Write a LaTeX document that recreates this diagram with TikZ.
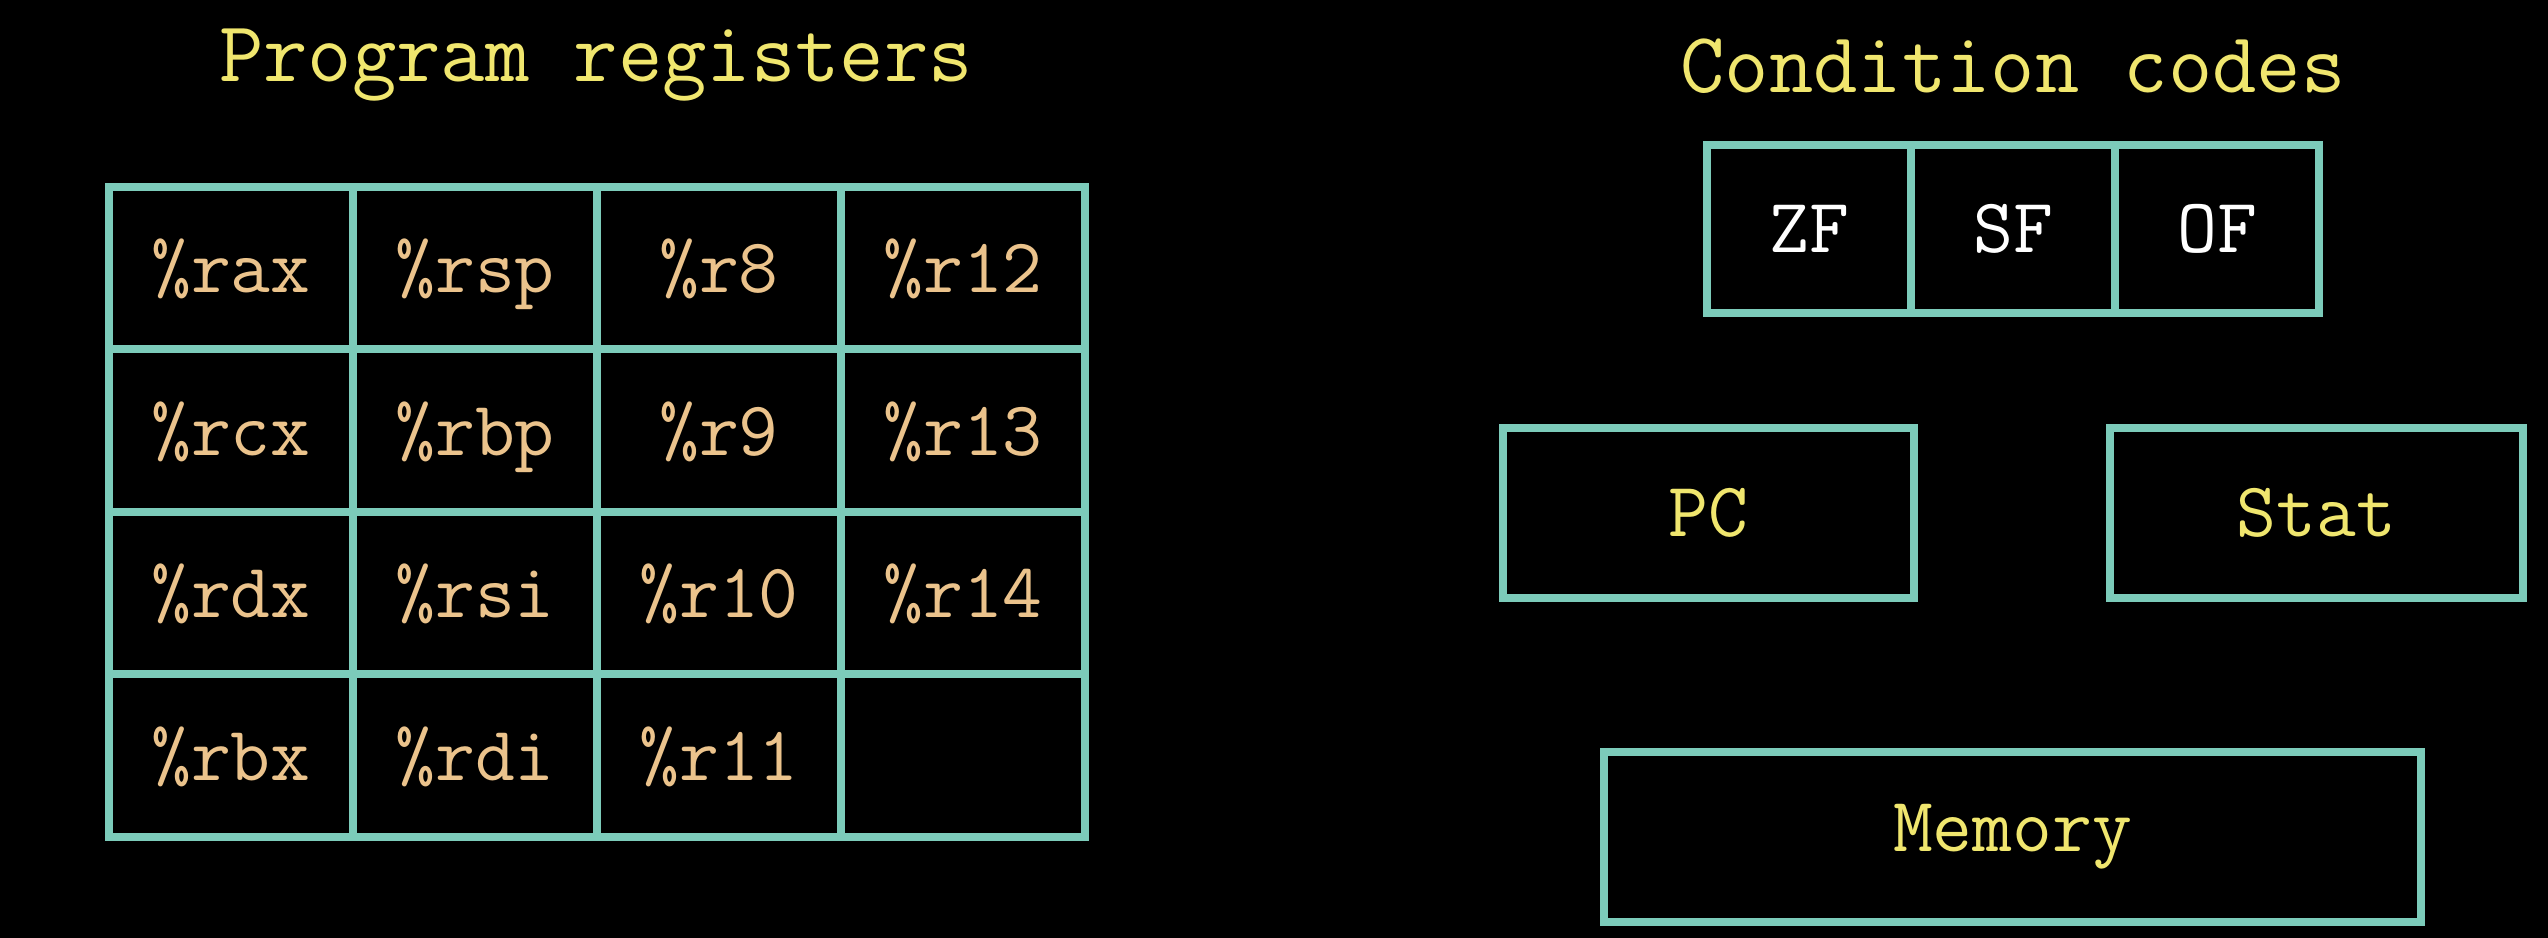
\documentclass[tikz,border=0pt]{standalone}
\usepackage{fontspec}
\definecolor{boxteal}{HTML}{7CCBBA}
\definecolor{labelyellow}{HTML}{F0E66E}
\definecolor{regtan}{HTML}{EBC38C}
\newcommand{\titlefont}{\fontsize{24.5}{29}\selectfont\ttfamily}
\newcommand{\cellfont}{\fontsize{22}{26}\selectfont\ttfamily}
\tikzset{
  regcell/.style={draw=boxteal, line width=2.3pt, minimum width=2.44cm, minimum height=1.625cm,
    inner sep=0pt, text=regtan, font=\cellfont, text height=0.5cm, text depth=0pt},
  flagcell/.style={draw=boxteal, line width=2.3pt, minimum width=2.04cm, minimum height=1.68cm,
    inner sep=0pt, text=white, font=\cellfont},
  statebox/.style={draw=boxteal, line width=2.3pt, minimum height=1.70cm,
    inner sep=0pt, text=labelyellow, font=\cellfont},
  heading/.style={anchor=base, text=labelyellow, font=\titlefont}
}
\begin{document}
\begin{tikzpicture}
\fill[black] (0,0) rectangle (25.48,9.38);

\node[heading] (progtitle) at (5.96,8.56) {Program registers};
\node[heading] (condtitle) at (20.13,8.45) {Condition codes};

\node[regcell] (rax) at (2.31,6.70) {\%rax};
\node[regcell] (rsp) at (4.75,6.70) {\%rsp};
\node[regcell] (r8)  at (7.19,6.70) {\%r8};
\node[regcell] (r12) at (9.63,6.70) {\%r12};
\node[regcell] (rcx) at (2.31,5.075) {\%rcx};
\node[regcell] (rbp) at (4.75,5.075) {\%rbp};
\node[regcell] (r9)  at (7.19,5.075) {\%r9};
\node[regcell] (r13) at (9.63,5.075) {\%r13};
\node[regcell] (rdx) at (2.31,3.45) {\%rdx};
\node[regcell] (rsi) at (4.75,3.45) {\%rsi};
\node[regcell] (r10) at (7.19,3.45) {\%r10};
\node[regcell] (r14) at (9.63,3.45) {\%r14};
\node[regcell] (rbx) at (2.31,1.825) {\%rbx};
\node[regcell] (rdi) at (4.75,1.825) {\%rdi};
\node[regcell] (r11) at (7.19,1.825) {\%r11};
\node[regcell] (blank) at (9.63,1.825) {};

\node[flagcell] (zf) at (18.09,7.09) {ZF};
\node[flagcell] (sf) at (20.13,7.09) {SF};
\node[flagcell] (of) at (22.17,7.09) {OF};

\node[statebox, minimum width=4.11cm] (pc)     at (17.085,4.25) {PC};
\node[statebox, minimum width=4.13cm] (stat)   at (23.165,4.25) {Stat};
\node[statebox, minimum width=8.17cm] (memory) at (20.125,1.01) {Memory};
\end{tikzpicture}
\end{document}
